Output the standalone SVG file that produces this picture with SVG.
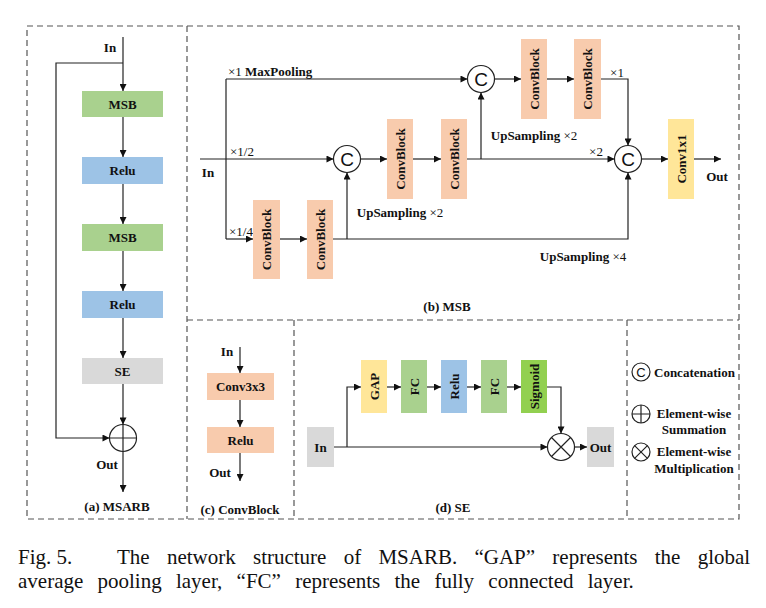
<svg xmlns="http://www.w3.org/2000/svg" width="766" height="608" viewBox="0 0 766 608">
<defs>
<marker id="ah" viewBox="0 0 10 10" refX="10" refY="5" markerWidth="9" markerHeight="7" markerUnits="userSpaceOnUse" orient="auto">
<path d="M0,0 L10,5 L0,10 z" fill="#111"/>
</marker>
</defs>
<style>
.frame{fill:none;stroke:#555;stroke-width:1.2;stroke-dasharray:6,4}
.ln{fill:none;stroke:#222;stroke-width:1.2}
.ar{fill:none;stroke:#222;stroke-width:1.2;marker-end:url(#ah)}
.t{font-family:"Liberation Serif","Times New Roman",serif;font-size:13px;font-weight:bold;fill:#111}
.r{font-weight:normal}
.m{text-anchor:middle}
.cir{fill:#fff;stroke:#222;stroke-width:1.2}
.ct{font-family:"Liberation Sans",Arial,sans-serif;font-size:19px;fill:#111;text-anchor:middle}
.green{fill:#a9d18e}
.blue{fill:#9dc3e6}
.gray{fill:#d9d9d9}
.peach{fill:#f8cbad}
.yellow{fill:#ffe699}
.lime{fill:#92d050}
.cap{font-family:"Liberation Serif","Times New Roman",serif;font-size:21px;fill:#111}
</style>
<rect width="766" height="608" fill="#fff"/>

<g id="frames">
<rect class="frame" x="27" y="26" width="712" height="493"/>
<line class="frame" x1="187" y1="26" x2="187" y2="519"/>
<line class="frame" x1="187" y1="320" x2="739" y2="320"/>
<line class="frame" x1="294" y1="320" x2="294" y2="519"/>
<line class="frame" x1="627" y1="320" x2="627" y2="519"/>
</g>

<g id="connectors">
<!-- (a) -->
<path class="ar" d="M123,37 V91"/>
<path class="ar" d="M123,63 H56 V438 H109.5"/>
<path class="ar" d="M123,117 V157"/>
<path class="ar" d="M123,184 V224"/>
<path class="ar" d="M123,251 V291"/>
<path class="ar" d="M123,318 V358"/>
<path class="ar" d="M123,384 V424.5"/>
<path class="ar" d="M123,451.5 V492"/>
<!-- (b) -->
<path class="ar" d="M200,159 H333.5"/>
<path class="ln" d="M226,79 V239"/>
<path class="ar" d="M226,79 H467.5"/>
<path class="ar" d="M226,239 H253"/>
<path class="ar" d="M280,239 H307"/>
<path class="ar" d="M333,239 H628 V172.5"/>
<path class="ar" d="M347,239 V172.5"/>
<path class="ar" d="M360.5,159 H387"/>
<path class="ar" d="M413,159 H441"/>
<path class="ar" d="M467,159 H614.5"/>
<path class="ar" d="M481,159 V92.5"/>
<path class="ar" d="M494.5,79 H521"/>
<path class="ar" d="M547,79 H574"/>
<path class="ar" d="M601,79 H628 V145.5"/>
<path class="ar" d="M641.5,159 H668"/>
<path class="ar" d="M694,159 H721"/>
<!-- (c) -->
<path class="ar" d="M240,347 V373"/>
<path class="ar" d="M240,400 V427"/>
<path class="ar" d="M240,453 V481"/>
<!-- (d) -->
<path class="ar" d="M334,447 H547.5"/>
<path class="ar" d="M347,447 V387 H361"/>
<path class="ar" d="M387,387 H401"/>
<path class="ar" d="M427,387 H441"/>
<path class="ar" d="M467,387 H481"/>
<path class="ar" d="M507,387 H521"/>
<path class="ar" d="M547,387 H561 V433.5"/>
<path class="ar" d="M574.5,447 H587"/>
</g>

<g id="panel-a">
<text class="t m" x="110" y="52">In</text>
<g id="a-msb1"><rect class="green" x="82" y="91" width="81" height="26"/><text class="t m" x="122.5" y="108.5">MSB</text></g>
<g id="a-relu1"><rect class="blue" x="82" y="157" width="81" height="27"/><text class="t m" x="122.5" y="175">Relu</text></g>
<g id="a-msb2"><rect class="green" x="82" y="224" width="81" height="27"/><text class="t m" x="122.5" y="242">MSB</text></g>
<g id="a-relu2"><rect class="blue" x="82" y="291" width="81" height="27"/><text class="t m" x="122.5" y="309">Relu</text></g>
<g id="a-se"><rect class="gray" x="82" y="358" width="81" height="26"/><text class="t m" x="122.5" y="375.5">SE</text></g>
<g id="a-sum"><circle class="cir" cx="123" cy="438" r="13.5"/><path class="ln" d="M109.5,438 H136.5 M123,424.5 V451.5"/></g>
<text class="t m" x="107" y="469">Out</text>
<text class="t m" x="117" y="511">(a) MSARB</text>
</g>

<g id="panel-b">
<text class="t m" x="208" y="177">In</text>
<text class="t" x="228" y="76"><tspan class="r">×1</tspan> MaxPooling</text>
<text class="t r" x="230" y="156">×1/2</text>
<text class="t r" x="229" y="236">×1/4</text>
<text class="t m" x="400" y="217">UpSampling <tspan class="r">×2</tspan></text>
<text class="t m" x="534" y="140">UpSampling <tspan class="r">×2</tspan></text>
<text class="t r m" x="617" y="77">×1</text>
<text class="t r m" x="596" y="156">×2</text>
<text class="t m" x="583" y="261">UpSampling <tspan class="r">×4</tspan></text>
<g id="b-cb3"><rect class="peach" x="253" y="200" width="27" height="79"/><text class="t m" transform="translate(271,239.5) rotate(-90)">ConvBlock</text></g>
<g id="b-cb4"><rect class="peach" x="307" y="200" width="26" height="79"/><text class="t m" transform="translate(324.5,239.5) rotate(-90)">ConvBlock</text></g>
<g id="b-c2"><circle class="cir" cx="347" cy="159" r="13.5"/><text class="ct" x="347" y="166">C</text></g>
<g id="b-cb1"><rect class="peach" x="387" y="119" width="26" height="80"/><text class="t m" transform="translate(404.5,159) rotate(-90)">ConvBlock</text></g>
<g id="b-cb2"><rect class="peach" x="441" y="119" width="26" height="80"/><text class="t m" transform="translate(458.5,159) rotate(-90)">ConvBlock</text></g>
<g id="b-c1"><circle class="cir" cx="481" cy="79" r="13.5"/><text class="ct" x="481" y="86">C</text></g>
<g id="b-cb5"><rect class="peach" x="521" y="39" width="26" height="80"/><text class="t m" transform="translate(538.5,79) rotate(-90)">ConvBlock</text></g>
<g id="b-cb6"><rect class="peach" x="574" y="39" width="27" height="80"/><text class="t m" transform="translate(592,79) rotate(-90)">ConvBlock</text></g>
<g id="b-c3"><circle class="cir" cx="628" cy="159" r="13.5"/><text class="ct" x="628" y="166">C</text></g>
<g id="b-conv1x1"><rect class="yellow" x="668" y="119" width="26" height="80"/><text class="t m" transform="translate(685.5,159) rotate(-90)">Conv1x1</text></g>
<text class="t m" x="717" y="181">Out</text>
<text class="t m" x="447" y="311">(b) MSB</text>
</g>

<g id="panel-c">
<text class="t m" x="227" y="356">In</text>
<g id="c-conv"><rect class="peach" x="207" y="373" width="67" height="27"/><text class="t m" x="240.5" y="391">Conv3x3</text></g>
<g id="c-relu"><rect class="peach" x="207" y="427" width="67" height="26"/><text class="t m" x="240.5" y="444.5">Relu</text></g>
<text class="t m" x="220" y="477">Out</text>
<text class="t m" x="240" y="514">(c) ConvBlock</text>
</g>

<g id="panel-d">
<g id="d-in"><rect class="gray" x="307" y="427" width="27" height="40"/><text class="t m" x="320.5" y="451.5">In</text></g>
<g id="d-gap"><rect class="yellow" x="361" y="360" width="26" height="53"/><text class="t m" transform="translate(378.5,386.5) rotate(-90)">GAP</text></g>
<g id="d-fc1"><rect class="green" x="401" y="360" width="26" height="53"/><text class="t m" transform="translate(418.5,386.5) rotate(-90)">FC</text></g>
<g id="d-relu"><rect class="blue" x="441" y="360" width="26" height="53"/><text class="t m" transform="translate(458.5,386.5) rotate(-90)">Relu</text></g>
<g id="d-fc2"><rect class="green" x="481" y="360" width="26" height="53"/><text class="t m" transform="translate(498.5,386.5) rotate(-90)">FC</text></g>
<g id="d-sig"><rect class="lime" x="521" y="360" width="26" height="53"/><text class="t m" transform="translate(538.5,386.5) rotate(-90)">Sigmoid</text></g>
<g id="d-mul"><circle class="cir" cx="561" cy="447" r="13.5"/><path class="ln" d="M551.5,437.5 L570.5,456.5 M570.5,437.5 L551.5,456.5"/></g>
<g id="d-out"><rect class="gray" x="587" y="427" width="27" height="40"/><text class="t m" x="600.5" y="451.5">Out</text></g>
<text class="t m" x="453" y="512">(d) SE</text>
</g>

<g id="legend">
<circle class="cir" cx="641" cy="372" r="9"/><text x="641" y="377" style="font-family:'Liberation Sans',Arial,sans-serif;font-size:13px;text-anchor:middle;fill:#111">C</text>
<text class="t" x="654" y="377">Concatenation</text>
<circle class="cir" cx="641" cy="414" r="9"/><path class="ln" d="M632,414 H650 M641,405 V423"/>
<text class="t m" x="694" y="418">Element-wise</text>
<text class="t m" x="694" y="434">Summation</text>
<circle class="cir" cx="641" cy="452" r="9"/><path class="ln" d="M634.6,445.6 L647.4,458.4 M647.4,445.6 L634.6,458.4"/>
<text class="t m" x="694" y="456">Element-wise</text>
<text class="t m" x="694" y="473">Multiplication</text>
</g>

<g id="caption">
<text class="cap" x="18" y="564">Fig. 5.</text>
<text class="cap" x="117" y="564" style="word-spacing:12px">The network structure of MSARB. “GAP” represents the global</text>
<text class="cap" x="18" y="588" style="word-spacing:9px">average pooling layer, “FC” represents the fully connected layer.</text>
</g>
</svg>
